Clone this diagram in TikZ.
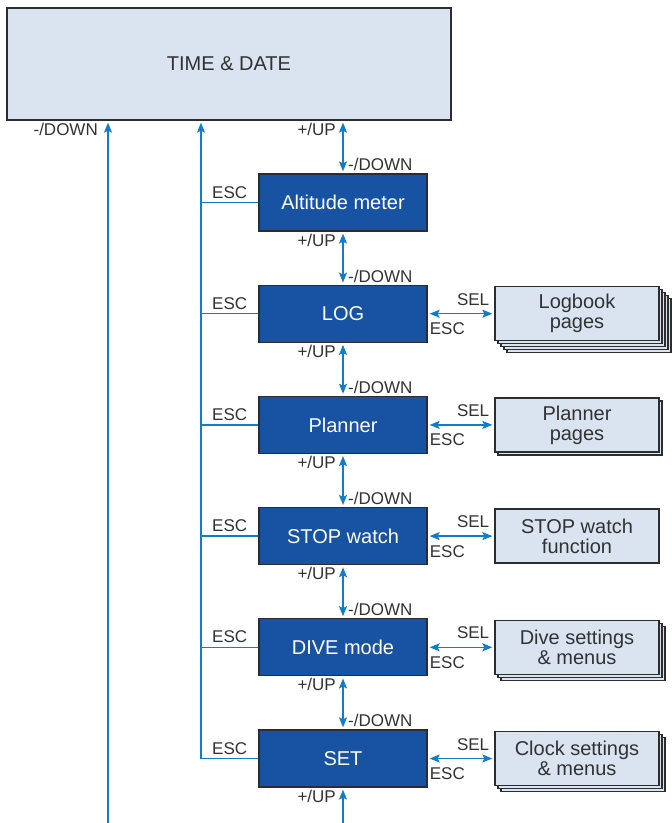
\documentclass[tikz,border=0pt]{standalone}
\usepackage{fontspec}
\setmainfont{Liberation Sans}
\usetikzlibrary{positioning,arrows.meta,shadows}

\definecolor{lightbox}{RGB}{217,228,240}
\definecolor{modeblue}{RGB}{24,82,163}
\definecolor{flowblue}{RGB}{18,124,200}
\definecolor{boxline}{RGB}{45,45,45}
\definecolor{labelgray}{RGB}{50,50,50}

\tikzset{
  screen/.style={draw=boxline, fill=lightbox, line width=1.3pt, text=labelgray,
    minimum width=444pt, minimum height=112pt, font=\fontsize{20}{20}\selectfont},
  mode/.style={draw=boxline, fill=modeblue, line width=1.3pt, text=white,
    minimum width=168pt, minimum height=57pt, inner sep=0pt, font=\fontsize{20}{20}\selectfont},
  pages/.style={draw=boxline, fill=lightbox, line width=1.3pt, text=labelgray,
    minimum width=164pt, minimum height=54pt, inner sep=0pt, align=center,
    font=\fontsize{20}{20}\selectfont},
  sheet/.style={copy shadow={shadow xshift=#1pt, shadow yshift=-#1pt}},
  key/.style={text=labelgray, inner sep=1.5pt, font=\fontsize{17}{17}\selectfont},
  flow/.style={draw=flowblue, line width=1.4pt},
  upflow/.style={flow, -{Stealth[length=10pt,width=8pt,inset=2pt]}, shorten >=2pt},
  bothflow/.style={flow, {Stealth[length=10pt,width=8pt,inset=2pt]}-{Stealth[length=10pt,width=8pt,inset=2pt]},
    shorten >=2pt, shorten <=2pt}
}

\begin{document}
\begin{tikzpicture}[x=1pt, y=-1pt, node distance=111.2pt]
  \useasboundingbox (0,0) rectangle (672,823);

  \node(top)[screen] at (229,64) {TIME \& DATE};
  \node(alt)[mode] at (343,202.5) {Altitude meter};
  \node(log)[mode, below of=alt] {LOG};
  \node(plan)[mode, below of=log] {Planner};
  \node(stop)[mode, below of=plan] {STOP watch};
  \node(dive)[mode, below of=stop] {DIVE mode};
  \node(set)[mode, below of=dive] {SET};

  \node(logp)[pages, sheet=12, sheet=9, sheet=6, sheet=3, node distance=234pt, right of=log] {Logbook\\pages};
  \node(planp)[pages, sheet=3, node distance=234pt, right of=plan] {Planner\\pages};
  \node(stopp)[pages, node distance=234pt, right of=stop] {STOP watch\\function};
  \node(divep)[pages, sheet=6, sheet=3, node distance=234pt, right of=dive] {Dive settings\\\& menus};
  \node(setp)[pages, sheet=6, sheet=3, node distance=234pt, right of=set] {Clock settings\\\& menus};

  \coordinate(lft) at (108,823);
  \coordinate(btm) at (343,823);
  \coordinate(bus) at (201,0);

  % up and down between the screens
  \draw[bothflow] (alt.north) -- (alt.north |- top.south)
    node[at end, key, anchor=north east, xshift=-5pt] {+/UP}
    node[at start, key, anchor=south west, xshift=3pt] {-/DOWN};
  \draw[bothflow] (alt.south) -- (log.north)
    node[at start, key, anchor=north east, xshift=-5pt] {+/UP}
    node[at end, key, anchor=south west, xshift=3pt] {-/DOWN};
  \draw[bothflow] (log.south) -- (plan.north)
    node[at start, key, anchor=north east, xshift=-5pt] {+/UP}
    node[at end, key, anchor=south west, xshift=3pt] {-/DOWN};
  \draw[bothflow] (plan.south) -- (stop.north)
    node[at start, key, anchor=north east, xshift=-5pt] {+/UP}
    node[at end, key, anchor=south west, xshift=3pt] {-/DOWN};
  \draw[bothflow] (stop.south) -- (dive.north)
    node[at start, key, anchor=north east, xshift=-5pt] {+/UP}
    node[at end, key, anchor=south west, xshift=3pt] {-/DOWN};
  \draw[bothflow] (dive.south) -- (set.north)
    node[at start, key, anchor=north east, xshift=-5pt] {+/UP}
    node[at end, key, anchor=south west, xshift=3pt] {-/DOWN};
  \draw[upflow] (btm) -- (set.south)
    node[at end, key, anchor=north east, xshift=-5pt] {+/UP};
  \draw[upflow] (lft) -- (lft |- top.south)
    node[at end, key, anchor=north east, xshift=-8pt] {-/DOWN};

  % ESC back to the clock
  \draw[upflow] (set.west) -| (bus |- top.south) node[pos=0.25, key, above, yshift=2pt] {ESC};
  \draw[flow] (alt.west) -- (alt.west -| bus) node[midway, key, above, yshift=2pt] {ESC};
  \draw[flow] (log.west) -- (log.west -| bus) node[midway, key, above, yshift=2pt] {ESC};
  \draw[flow] (plan.west) -- (plan.west -| bus) node[midway, key, above, yshift=2pt] {ESC};
  \draw[flow] (stop.west) -- (stop.west -| bus) node[midway, key, above, yshift=2pt] {ESC};
  \draw[flow] (dive.west) -- (dive.west -| bus) node[midway, key, above, yshift=2pt] {ESC};

  % SEL into the pages
  \draw[bothflow] (log.east) -- (logp.west)
    node[at end, key, anchor=south east, xshift=-3pt, yshift=6pt] {SEL}
    node[at start, key, anchor=north west, yshift=-7pt] {ESC};
  \draw[bothflow] (plan.east) -- (planp.west)
    node[at end, key, anchor=south east, xshift=-3pt, yshift=6pt] {SEL}
    node[at start, key, anchor=north west, yshift=-7pt] {ESC};
  \draw[bothflow] (stop.east) -- (stopp.west)
    node[at end, key, anchor=south east, xshift=-3pt, yshift=6pt] {SEL}
    node[at start, key, anchor=north west, yshift=-7pt] {ESC};
  \draw[bothflow] (dive.east) -- (divep.west)
    node[at end, key, anchor=south east, xshift=-3pt, yshift=6pt] {SEL}
    node[at start, key, anchor=north west, yshift=-7pt] {ESC};
  \draw[bothflow] (set.east) -- (setp.west)
    node[at end, key, anchor=south east, xshift=-3pt, yshift=6pt] {SEL}
    node[at start, key, anchor=north west, yshift=-7pt] {ESC};
\end{tikzpicture}
\end{document}
